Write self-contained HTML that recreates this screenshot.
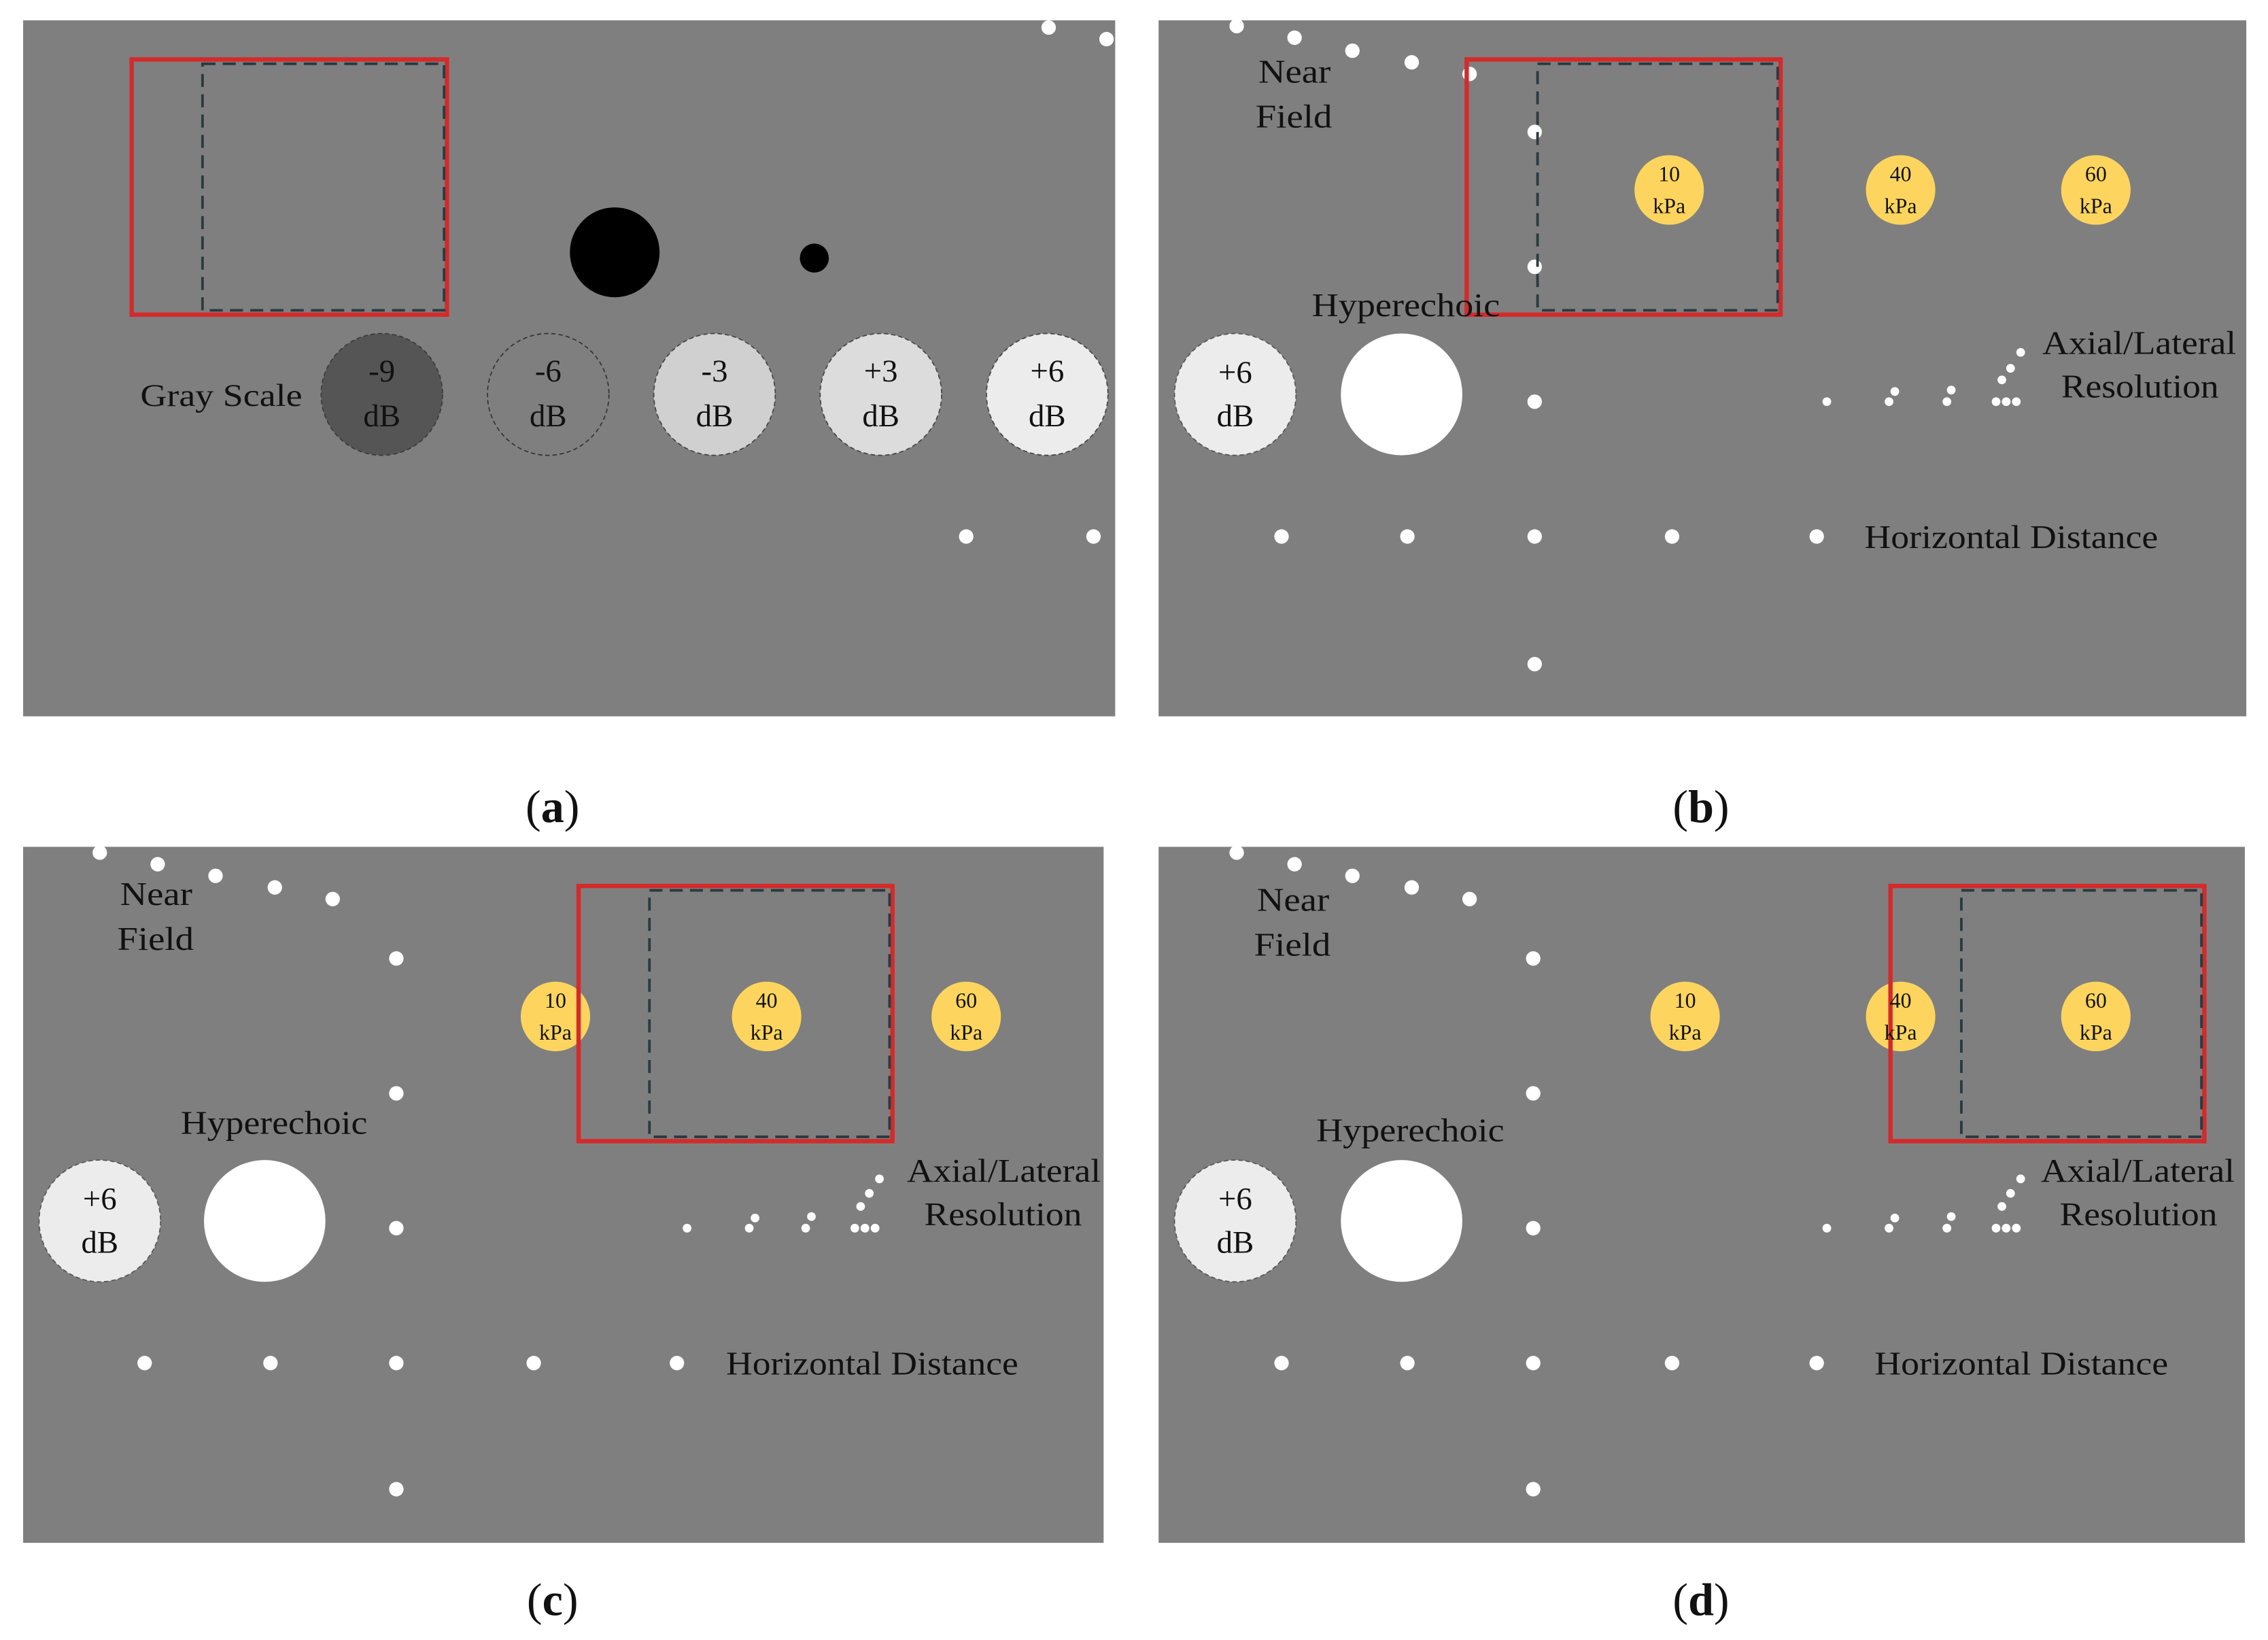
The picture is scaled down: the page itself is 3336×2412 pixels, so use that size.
<!DOCTYPE html>
<html><head><meta charset="utf-8"><style>
html,body{margin:0;padding:0;background:#fff;}
svg{display:block;}
text{font-family:"Liberation Serif",serif;fill:#111;}
</style></head><body>
<svg width="3336" height="2412" viewBox="0 0 1568 1131" preserveAspectRatio="none" xmlns="http://www.w3.org/2000/svg">
<rect width="1568" height="1131" fill="#fff"/>
<rect x="16" y="14" width="755" height="480" fill="#7f7f7f"/>
<rect x="801" y="14" width="752" height="480" fill="#7f7f7f"/>
<rect x="16" y="584" width="747" height="480" fill="#7f7f7f"/>
<rect x="801" y="584" width="751" height="480" fill="#7f7f7f"/>

<!-- Panel A -->
<rect x="91" y="41" width="218" height="176" fill="none" stroke="#d42a2a" stroke-width="3"/>
<rect x="140" y="44" width="167" height="170" fill="none" stroke="#2a3a40" stroke-width="1.8" stroke-dasharray="9,5"/>
<ellipse cx="425" cy="174" rx="31" ry="31" fill="#000"/>
<circle cx="563" cy="178" r="10" fill="#000"/>
<text x="97" y="280" font-size="22" textLength="112" lengthAdjust="spacingAndGlyphs">Gray Scale</text>
<g stroke-dasharray="3,2">
<circle cx="264" cy="272" r="42" fill="#555" stroke="#3a3a3a" stroke-width="0.8"/>
<circle cx="379" cy="272" r="42" fill="#7f7f7f" stroke="#333" stroke-width="0.8"/>
<circle cx="494" cy="272" r="42" fill="#d0d0d0" stroke="#444" stroke-width="0.8"/>
<circle cx="609" cy="272" r="42" fill="#dcdcdc" stroke="#444" stroke-width="0.8"/>
<circle cx="724" cy="272" r="42" fill="#ececec" stroke="#444" stroke-width="0.8"/>
</g>
<g font-size="22" text-anchor="middle">
<text x="264" y="263">-9</text><text x="264" y="294">dB</text>
<text x="379" y="263">-6</text><text x="379" y="294">dB</text>
<text x="494" y="263">-3</text><text x="494" y="294">dB</text>
<text x="609" y="263">+3</text><text x="609" y="294">dB</text>
<text x="724" y="263">+6</text><text x="724" y="294">dB</text>
</g>
<g fill="#fff">
<circle cx="725" cy="19" r="5"/><circle cx="765" cy="27" r="5"/>
<circle cx="668" cy="370" r="5"/><circle cx="756" cy="370" r="5"/>
</g>

<!-- Panel B -->
<g fill="#fff">
<circle cx="855" cy="18" r="5"/><circle cx="895" cy="26" r="5"/><circle cx="935" cy="35" r="5"/><circle cx="976" cy="43" r="5"/><circle cx="1016" cy="51" r="5"/>
<circle cx="1061" cy="91" r="5"/><circle cx="1061" cy="184" r="5"/><circle cx="1061" cy="277" r="5"/><circle cx="1061" cy="370" r="5"/><circle cx="1061" cy="458" r="5"/>
<circle cx="886" cy="370" r="5"/><circle cx="973" cy="370" r="5"/><circle cx="1156" cy="370" r="5"/><circle cx="1256" cy="370" r="5"/>
<circle cx="1263" cy="277" r="3"/><circle cx="1306" cy="277" r="3"/><circle cx="1310" cy="270" r="3"/><circle cx="1346" cy="277" r="3"/><circle cx="1349" cy="269" r="3"/>
<circle cx="1380" cy="277" r="3"/><circle cx="1387" cy="277" r="3"/><circle cx="1394" cy="277" r="3"/><circle cx="1384" cy="262" r="3"/><circle cx="1390" cy="254" r="3"/><circle cx="1397" cy="243" r="3"/>
<circle cx="969" cy="272" r="42"/>
</g>
<circle cx="854" cy="272" r="42" fill="#ececec" stroke="#555" stroke-width="0.8" stroke-dasharray="3,2"/>
<rect x="1014" y="41" width="217" height="176" fill="none" stroke="#d42a2a" stroke-width="3"/>
<rect x="1063" y="44" width="166" height="170" fill="none" stroke="#2a3a40" stroke-width="1.8" stroke-dasharray="9,5"/>
<g fill="#fdd55e"><circle cx="1154" cy="131" r="24"/><circle cx="1314" cy="131" r="24"/><circle cx="1449" cy="131" r="24"/></g>
<g font-size="15" text-anchor="middle">
<text x="1154" y="125">10</text><text x="1154" y="147">kPa</text>
<text x="1314" y="125">40</text><text x="1314" y="147">kPa</text>
<text x="1449" y="125">60</text><text x="1449" y="147">kPa</text>
</g>
<g font-size="23">
<text x="870" y="57" textLength="50" lengthAdjust="spacingAndGlyphs">Near</text>
<text x="868" y="88" textLength="53" lengthAdjust="spacingAndGlyphs">Field</text>
<text x="907" y="218" textLength="130" lengthAdjust="spacingAndGlyphs">Hyperechoic</text>
<text x="1412" y="244" textLength="134" lengthAdjust="spacingAndGlyphs">Axial/Lateral</text>
<text x="1425" y="274" textLength="109" lengthAdjust="spacingAndGlyphs">Resolution</text>
<text x="1289" y="378" textLength="203" lengthAdjust="spacingAndGlyphs">Horizontal Distance</text>
</g>
<g font-size="22" text-anchor="middle"><text x="854" y="264">+6</text><text x="854" y="294">dB</text></g>

<!-- Panel C -->
<g fill="#fff">
<circle cx="69" cy="588" r="5"/><circle cx="109" cy="596" r="5"/><circle cx="149" cy="604" r="5"/><circle cx="190" cy="612" r="5"/><circle cx="230" cy="620" r="5"/>
<circle cx="274" cy="661" r="5"/><circle cx="274" cy="754" r="5"/><circle cx="274" cy="847" r="5"/><circle cx="274" cy="940" r="5"/><circle cx="274" cy="1027" r="5"/>
<circle cx="100" cy="940" r="5"/><circle cx="187" cy="940" r="5"/><circle cx="369" cy="940" r="5"/><circle cx="468" cy="940" r="5"/>
<circle cx="475" cy="847" r="3"/><circle cx="518" cy="847" r="3"/><circle cx="522" cy="840" r="3"/><circle cx="557" cy="847" r="3"/><circle cx="561" cy="839" r="3"/>
<circle cx="591" cy="847" r="3"/><circle cx="598" cy="847" r="3"/><circle cx="605" cy="847" r="3"/><circle cx="595" cy="832" r="3"/><circle cx="601" cy="823" r="3"/><circle cx="608" cy="813" r="3"/>
<circle cx="183" cy="842" r="42"/>
</g>
<circle cx="69" cy="842" r="42" fill="#ececec" stroke="#555" stroke-width="0.8" stroke-dasharray="3,2"/>
<g fill="#fdd55e"><circle cx="384" cy="701" r="24"/><circle cx="530" cy="701" r="24"/><circle cx="668" cy="701" r="24"/></g>
<rect x="400" y="611" width="217" height="176" fill="none" stroke="#d42a2a" stroke-width="3"/>
<rect x="449" y="614" width="166" height="170" fill="none" stroke="#2a3a40" stroke-width="1.8" stroke-dasharray="9,5"/>
<g font-size="15" text-anchor="middle">
<text x="384" y="695">10</text><text x="384" y="717">kPa</text>
<text x="530" y="695">40</text><text x="530" y="717">kPa</text>
<text x="668" y="695">60</text><text x="668" y="717">kPa</text>
</g>
<g font-size="23">
<text x="83" y="624" textLength="50" lengthAdjust="spacingAndGlyphs">Near</text>
<text x="81" y="655" textLength="53" lengthAdjust="spacingAndGlyphs">Field</text>
<text x="125" y="782" textLength="129" lengthAdjust="spacingAndGlyphs">Hyperechoic</text>
<text x="627" y="815" textLength="134" lengthAdjust="spacingAndGlyphs">Axial/Lateral</text>
<text x="639" y="845" textLength="109" lengthAdjust="spacingAndGlyphs">Resolution</text>
<text x="502" y="948" textLength="202" lengthAdjust="spacingAndGlyphs">Horizontal Distance</text>
</g>
<g font-size="22" text-anchor="middle"><text x="69" y="834">+6</text><text x="69" y="864">dB</text></g>

<!-- Panel D -->
<g fill="#fff">
<circle cx="855" cy="588" r="5"/><circle cx="895" cy="596" r="5"/><circle cx="935" cy="604" r="5"/><circle cx="976" cy="612" r="5"/><circle cx="1016" cy="620" r="5"/>
<circle cx="1060" cy="661" r="5"/><circle cx="1060" cy="754" r="5"/><circle cx="1060" cy="847" r="5"/><circle cx="1060" cy="940" r="5"/><circle cx="1060" cy="1027" r="5"/>
<circle cx="886" cy="940" r="5"/><circle cx="973" cy="940" r="5"/><circle cx="1156" cy="940" r="5"/><circle cx="1256" cy="940" r="5"/>
<circle cx="1263" cy="847" r="3"/><circle cx="1306" cy="847" r="3"/><circle cx="1310" cy="840" r="3"/><circle cx="1346" cy="847" r="3"/><circle cx="1349" cy="839" r="3"/>
<circle cx="1380" cy="847" r="3"/><circle cx="1387" cy="847" r="3"/><circle cx="1394" cy="847" r="3"/><circle cx="1384" cy="832" r="3"/><circle cx="1390" cy="823" r="3"/><circle cx="1397" cy="813" r="3"/>
<circle cx="969" cy="842" r="42"/>
</g>
<circle cx="854" cy="842" r="42" fill="#ececec" stroke="#555" stroke-width="0.8" stroke-dasharray="3,2"/>
<g fill="#fdd55e"><circle cx="1165" cy="701" r="24"/><circle cx="1314" cy="701" r="24"/><circle cx="1449" cy="701" r="24"/></g>
<rect x="1307" y="611" width="217" height="176" fill="none" stroke="#d42a2a" stroke-width="3"/>
<rect x="1356" y="614" width="166" height="170" fill="none" stroke="#2a3a40" stroke-width="1.8" stroke-dasharray="9,5"/>
<g font-size="15" text-anchor="middle">
<text x="1165" y="695">10</text><text x="1165" y="717">kPa</text>
<text x="1314" y="695">40</text><text x="1314" y="717">kPa</text>
<text x="1449" y="695">60</text><text x="1449" y="717">kPa</text>
</g>
<g font-size="23">
<text x="869" y="628" textLength="50" lengthAdjust="spacingAndGlyphs">Near</text>
<text x="867" y="659" textLength="53" lengthAdjust="spacingAndGlyphs">Field</text>
<text x="910" y="787" textLength="130" lengthAdjust="spacingAndGlyphs">Hyperechoic</text>
<text x="1411" y="815" textLength="134" lengthAdjust="spacingAndGlyphs">Axial/Lateral</text>
<text x="1424" y="845" textLength="109" lengthAdjust="spacingAndGlyphs">Resolution</text>
<text x="1296" y="948" textLength="203" lengthAdjust="spacingAndGlyphs">Horizontal Distance</text>
</g>
<g font-size="22" text-anchor="middle"><text x="854" y="834">+6</text><text x="854" y="864">dB</text></g>

<g font-size="32" text-anchor="middle">
<text x="382" y="567">(<tspan font-weight="bold">a</tspan>)</text>
<text x="1176" y="567">(<tspan font-weight="bold">b</tspan>)</text>
<text x="382" y="1114">(<tspan font-weight="bold">c</tspan>)</text>
<text x="1176" y="1114">(<tspan font-weight="bold">d</tspan>)</text>
</g>
</svg>
</body></html>
